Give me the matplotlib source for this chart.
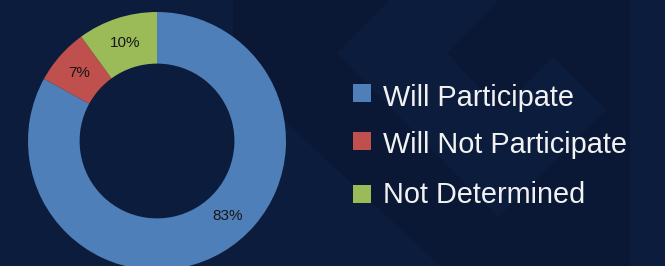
import matplotlib
matplotlib.use("Agg")
import matplotlib.pyplot as plt
from matplotlib.patches import Polygon, Rectangle
import numpy as np

categories = ["Will Participate", "Will Not Participate", "Not Determined"]
values = [83, 7, 10]
colors = ["#4f7fb8", "#bf504d", "#9bbb59"]

W, H = 665, 266
fig = plt.figure(figsize=(W / 100, H / 100), dpi=100)
fig.patch.set_facecolor("#0c1c3d")

# background decoration (pixel coordinates, y downwards)
bg = fig.add_axes([0, 0, 1, 1])
bg.set_xlim(0, W)
bg.set_ylim(H, 0)
bg.axis("off")
bg.add_patch(Rectangle((233, 0), 397, H, color="#0a1835", lw=0))
bg.add_patch(Polygon([(337, 53), (443, -53), (606, 110), (498, 217)], closed=True,
                     color="#0c1c3d", lw=0))
bg.add_patch(Polygon([(447, 53), (530, -30), (585, 25), (553, 57), (500, 110)], closed=True,
                     color="#0a1835", lw=0))
bg.add_patch(Polygon([(273, 110), (440, 266), (233, 266), (233, 150)], closed=True,
                     color="#0c1c3d", lw=0))

# donut
cx, cy, r = 157, 141, 129
ax = fig.add_axes([(cx - r) / W, (H - cy - r) / H, 2 * r / W, 2 * r / H])
ax.set_facecolor("none")
wedges, texts, autotexts = ax.pie(
    values, colors=colors, startangle=90, counterclock=False,
    wedgeprops=dict(width=0.4, edgecolor="none"),
    autopct="%d%%", pctdistance=0.8,
    textprops=dict(fontsize=11, color="#161616", family="Liberation Sans"),
)
ax.set_xlim(-1, 1)
ax.set_ylim(-1, 1)
ax.set_aspect("equal")
ax.axis("off")
# Excel-like placement of the large slice label
ang = np.deg2rad(-47)
autotexts[0].set_position((0.8 * np.cos(ang), 0.8 * np.sin(ang)))

# legend (manual)
sq_tops = [84, 132, 185]
baselines = [106, 153, 203]
for lab, col, top, base in zip(categories, colors, sq_tops, baselines):
    bg.add_patch(Rectangle((353, top), 18, 18, color=col, lw=0))
    bg.text(383, base, lab, fontsize=20.8, color="#f2f2f2", family="Liberation Sans",
            va="baseline", ha="left")

fig.savefig("out.png", dpi=100, facecolor=fig.get_facecolor())
